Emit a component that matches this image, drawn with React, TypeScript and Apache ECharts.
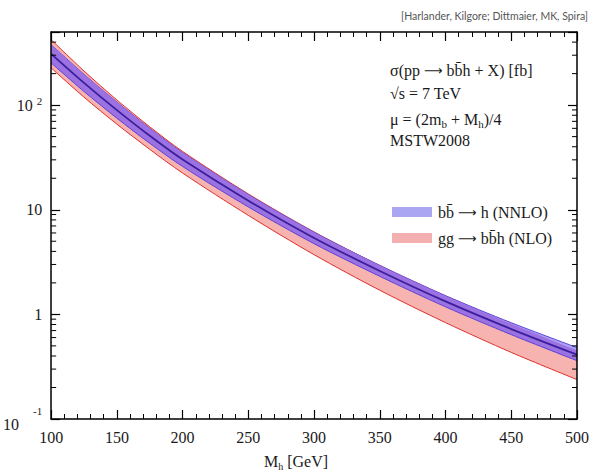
import React, { useEffect, useRef } from 'react';
import * as echarts from 'echarts';

// Higgs mass in GeV
const massGeV = [100, 125, 150, 175, 200, 250, 300, 350, 400, 450, 500];
// b bbar -> h (NNLO) band, fb
const bbhNnloUpper = [378, 197, 107, 60.1, 35.2, 13.96, 6.10, 2.94, 1.51, 0.832, 0.482];
const bbhNnloCentral = [309, 163, 89.5, 50.9, 30.2, 12.2, 5.37, 2.60, 1.33, 0.724, 0.412];
const bbhNnloLower = [253, 135, 75.0, 43.2, 25.9, 10.64, 4.74, 2.31, 1.18, 0.640, 0.361];
// gg -> b bbar h (NLO) band, fb
const ggNloUpper = [422, 212, 112, 62.1, 36.1, 14.16, 6.14, 2.93, 1.50, 0.813, 0.452];
const ggNloLower = [227, 119, 65.8, 37.8, 22.4, 8.83, 3.72, 1.70, 0.834, 0.433, 0.238];

const yMinorTicks = [
  0.2, 0.3, 0.4, 0.5, 0.6, 0.7, 0.8, 0.9,
  2, 3, 4, 5, 6, 7, 8, 9,
  20, 30, 40, 50, 60, 70, 80, 90,
  200, 300, 400,
];
const yTickLabels: Record<string, string> = {
  '-1': '{m|10}{ms|-1}',
  '0': '{a|1}',
  '1': '{a|10}',
  '2': '{a|10}{s|2}',
};
const annotationLines = [
  '{t|σ(pp }{r|⟶}{t| bb\u0304h + X) [fb]}',
  '{t|√s = 7 TeV}',
  '{t|μ = (2m}{d|b}{t| + M}{d|h}{t|)/4}',
  '{t|MSTW2008}',
];
const legendLabels = ['{t|bb\u0304 }{r|⟶}{t| h (NNLO)}', '{t|gg }{r|⟶}{t| bb\u0304h (NLO)}'];

const SERIF = '"Liberation Serif", "DejaVu Serif", serif';
const TXT = '#1a1a1a';
const PINK = '#f6b3b0';
const RED = '#e0302a';
const LAVENDER = '#aba2f7';
const PURPLE = '#9c72e2';
const BLUE_EDGE = '#5a44d6';

const richText = {
  t: { fontFamily: SERIF, fontSize: 16, fill: TXT, lineHeight: 18 },
  r: { fontFamily: '"DejaVu Sans", sans-serif', fontSize: 13, fill: TXT, lineHeight: 18 },
  d: { fontFamily: SERIF, fontSize: 11, fill: TXT, lineHeight: 11, padding: [9, 0, 0, 0] },
};

function areaLayer(vals: number[], fill: string, stroke: string, width: number, z: number) {
  return {
    type: 'line',
    xAxisIndex: 0,
    yAxisIndex: 0,
    data: massGeV.map((m, i) => [m, vals[i]]),
    symbol: 'none',
    smooth: 0.3,
    silent: true,
    z,
    lineStyle: { color: stroke, width },
    areaStyle: fill ? { color: fill, opacity: 1, origin: 'start' } : undefined,
  };
}

export default function App() {
  const ref = useRef<HTMLDivElement>(null);
  useEffect(() => {
    if (!ref.current) return;
    const chart = echarts.init(ref.current, undefined, { renderer: 'svg' });
    const upperMin = massGeV.map((_, i) => Math.min(bbhNnloUpper[i], ggNloUpper[i]));
    const xAxisBase = {
      type: 'value',
      min: 100,
      max: 500,
      interval: 50,
      z: 20,
      splitLine: { show: false },
      axisLine: { show: true, lineStyle: { color: '#000', width: 1.5 } },
      axisTick: { show: true, inside: true, length: 9, lineStyle: { color: '#000', width: 1.2 } },
      minorTick: { show: true, splitNumber: 5, length: 5, lineStyle: { color: '#000', width: 1 } },
    };
    const yAxisBase = {
      type: 'log',
      logBase: 10,
      min: 0.1,
      max: 500,
      z: 20,
      splitLine: { show: false },
      minorTick: { show: false },
      axisLine: { show: true, lineStyle: { color: '#000', width: 1.5 } },
      axisTick: { show: true, inside: true, length: 9, lineStyle: { color: '#000', width: 1.2 } },
    };
    chart.setOption({
      animation: false,
      backgroundColor: '#fff',
      grid: { left: 50, right: 14, top: 32, bottom: 55, containLabel: false },
      xAxis: [
        {
          ...xAxisBase,
          position: 'bottom',
          axisLabel: { show: true, margin: 10, fontFamily: SERIF, fontSize: 16, color: TXT },
        },
        { ...xAxisBase, position: 'top', axisLabel: { show: false } },
      ],
      yAxis: [
        {
          ...yAxisBase,
          position: 'left',
          axisLabel: {
            show: true,
            margin: 9,
            formatter: (v: number) => {
              const e = Math.round(Math.log10(v));
              if (Math.abs(Math.log10(v) - e) > 1e-6) return '';
              return yTickLabels[String(e)] || '';
            },
            rich: {
              a: { fontFamily: SERIF, fontSize: 16, color: TXT, lineHeight: 18 },
              s: { fontFamily: SERIF, fontSize: 11, color: TXT, lineHeight: 11, padding: [0, 0, 9, 4] },
              m: { fontFamily: SERIF, fontSize: 16, color: TXT, lineHeight: 18, padding: [11, 14, 0, 0] },
              ms: { fontFamily: SERIF, fontSize: 11, color: TXT, lineHeight: 11, padding: [0, 0, 17, 0] },
            },
          },
        },
        { ...yAxisBase, position: 'right', axisLabel: { show: false } },
      ],
      graphic: [
        {
          type: 'text',
          right: 4,
          top: 10,
          style: {
            text: '[Harlander, Kilgore; Dittmaier, MK, Spira]',
            fontFamily: 'Lato, "Open Sans", sans-serif',
            fontSize: 10.5,
            fill: '#555',
          },
        },
        ...annotationLines.map((line, i) => ({
          type: 'text',
          left: 390,
          top: 62 + i * 23.5,
          style: { text: line, rich: richText },
        })),
        ...legendLabels.map((lab, i) => ({
          type: 'group',
          left: 392,
          top: 204 + i * 26,
          children: [
            {
              type: 'rect',
              shape: { x: 0, y: 4, width: 40, height: 10 },
              style: { fill: i === 0 ? '#aaa6f2' : '#f4b0b0' },
            },
            {
              type: 'text',
              x: 46,
              y: 0,
              style: { text: lab, rich: richText },
            },
          ],
        })),
        {
          type: 'text',
          left: 'center',
          top: 452,
          style: {
            text: '{t|M}{d|h}{t| [GeV]}',
            rich: {
              t: { fontFamily: SERIF, fontSize: 16, fill: TXT, lineHeight: 18 },
              d: { fontFamily: SERIF, fontSize: 10, fill: TXT, lineHeight: 10, padding: [9, 0, 0, 0] },
            },
          },
        },
      ],
      series: [
        areaLayer(ggNloUpper, PINK, RED, 1, 1),
        areaLayer(bbhNnloUpper, LAVENDER, BLUE_EDGE, 1, 2),
        areaLayer(upperMin, PURPLE, 'rgba(0,0,0,0)', 0, 3),
        areaLayer(bbhNnloLower, PINK, BLUE_EDGE, 1, 4),
        areaLayer(ggNloLower, '#ffffff', RED, 1, 5),
        areaLayer(bbhNnloCentral, '', '#3a1f9c', 1.8, 6),
        {
          type: 'custom',
          coordinateSystem: 'cartesian2d',
          xAxisIndex: 0,
          yAxisIndex: 0,
          silent: true,
          clip: false,
          z: 21,
          data: yMinorTicks.map((v) => [100, v]),
          renderItem: (_p: any, api: any) => {
            const v = api.value(1);
            const l = api.coord([100, v]);
            const r = api.coord([500, v]);
            return {
              type: 'group',
              children: [
                { type: 'line', shape: { x1: l[0], y1: l[1], x2: l[0] + 5, y2: l[1] }, style: { stroke: '#000', lineWidth: 1 } },
                { type: 'line', shape: { x1: r[0] - 5, y1: r[1], x2: r[0], y2: r[1] }, style: { stroke: '#000', lineWidth: 1 } },
              ],
            };
          },
        },
      ],
    });
    return () => chart.dispose();
  }, []);
  return <div ref={ref} style={{ position: 'absolute', left: 0, top: 0, width: 592, height: 474 }} />;
}
